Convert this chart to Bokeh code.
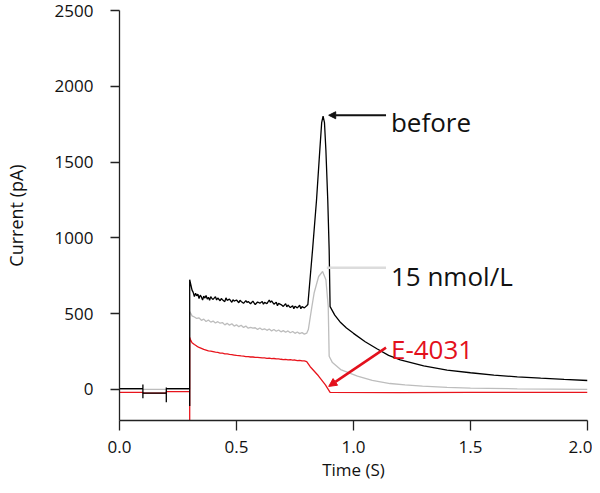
from bokeh.plotting import figure
from bokeh.models import Range1d, FixedTicker, Arrow, NormalHead, Label
from bokeh.embed import file_html
from bokeh.resources import INLINE

# ---------------- data ----------------
x_ticks = [0.0, 0.5, 1.0, 1.5, 2.0]
y_ticks = [0, 500, 1000, 1500, 2000, 2500]

before_t = [0.0, 0.1, 0.1, 0.1, 0.1, 0.2, 0.2, 0.2, 0.2, 0.3, 0.3, 0.3,
            0.305, 0.31, 0.315, 0.32, 0.325, 0.33, 0.335, 0.34, 0.345, 0.35,
            0.355, 0.36, 0.365, 0.37, 0.375, 0.38, 0.385, 0.39, 0.395, 0.40,
            0.41, 0.415, 0.42, 0.43, 0.435, 0.44, 0.45, 0.455, 0.46, 0.47, 0.48, 0.485, 0.49, 0.50,
            0.51, 0.515, 0.52, 0.53, 0.54, 0.545, 0.55, 0.56, 0.57, 0.575, 0.58, 0.59, 0.60,
            0.61, 0.615, 0.62, 0.63, 0.64, 0.645, 0.65, 0.66, 0.67, 0.675, 0.68, 0.69, 0.70,
            0.71, 0.715, 0.72, 0.73, 0.74, 0.745, 0.75, 0.76, 0.77, 0.775, 0.78, 0.79, 0.80, 0.805,
            0.825, 0.842, 0.856, 0.864, 0.870, 0.876, 0.882, 0.890, 0.896, 0.900,
            0.92, 0.945, 0.97, 1.0, 1.05, 1.10, 1.15, 1.2, 1.3, 1.4, 1.5,
            1.6, 1.7, 1.8, 1.9, 2.0]
before_i = [5, 5, 33, -59, -25, -25, -85, 13, 5, 5, -110, 724,
            690, 655, 640, 612, 635, 618, 628, 600, 622, 610,
            590, 615, 603, 620, 596, 608, 588, 612, 600, 594,
            612, 590, 603, 585, 600, 592, 579, 604, 588, 596, 575, 592, 583, 590,
            572, 588, 580, 568, 586, 574, 580, 565, 583, 571, 560, 577, 569,
            580, 562, 574, 566, 590, 574, 584, 562, 575, 552, 568, 560, 548,
            566, 545, 557, 540, 552, 533, 549, 538, 555, 532, 546, 538, 552, 560,
            921, 1250, 1579, 1760, 1803, 1760, 1579, 1250, 921, 546,
            490, 441, 405, 370, 315, 268, 225, 195, 155, 128, 110,
            95, 83, 74, 66, 59]

nmol15_t = [0.0, 0.3, 0.3, 0.305, 0.31, 0.32, 0.33, 0.34, 0.35, 0.36, 0.37, 0.38, 0.39, 0.40,
            0.41, 0.42, 0.43, 0.44, 0.45, 0.46, 0.47, 0.48, 0.49, 0.50,
            0.51, 0.52, 0.53, 0.54, 0.55, 0.56, 0.57, 0.58, 0.59, 0.60,
            0.61, 0.62, 0.63, 0.64, 0.65, 0.66, 0.67, 0.68, 0.69, 0.70,
            0.71, 0.72, 0.73, 0.74, 0.75, 0.76, 0.77, 0.78, 0.79, 0.80,
            0.807, 0.82, 0.832, 0.851, 0.868, 0.882, 0.892, 0.896, 0.91, 0.945,
            1.017, 1.08, 1.156, 1.22, 1.295, 1.4, 1.5, 1.578, 1.7, 1.85, 2.0]
nmol15_i = [0, 0, 513, 500, 485, 478, 468, 472, 456, 464, 448, 458, 444, 451,
            438, 447, 437, 441, 426, 436, 424, 433, 418, 426,
            414, 423, 409, 418, 404, 410, 404, 407, 396, 405,
            394, 400, 390, 399, 386, 395, 384, 392, 380, 388,
            377, 386, 374, 382, 370, 379, 368, 375, 365, 371,
            395, 525, 638, 745, 778, 724, 548, 219, 177, 131,
            88, 60, 39, 30, 22, 14, 9, 7, 4, 2, 0]

e4031_t = [0.0, 0.1, 0.1, 0.2, 0.2, 0.3, 0.3, 0.3,
           0.305, 0.31, 0.32, 0.33, 0.34, 0.35, 0.36, 0.37, 0.38, 0.39, 0.40,
           0.41, 0.42, 0.43, 0.44, 0.45, 0.46, 0.47, 0.48, 0.49, 0.50,
           0.51, 0.52, 0.53, 0.54, 0.55, 0.56, 0.57, 0.58, 0.59, 0.60,
           0.61, 0.62, 0.63, 0.64, 0.65, 0.66, 0.67, 0.68, 0.69, 0.70,
           0.71, 0.72, 0.73, 0.74, 0.75, 0.76, 0.77, 0.78, 0.79, 0.80,
           0.815, 0.85, 0.88, 0.90, 1.2, 1.5, 1.8, 2.0]
e4031_i = [-20, -20, -25, -25, -15, -15, -205, 342,
           322, 308, 296, 286, 277, 271, 264, 260, 255, 253, 250,
           246, 244, 240, 239, 235, 234, 231, 230, 227, 224,
           223, 221, 220, 217, 217, 214, 214, 211, 212, 210,
           208, 208, 205, 206, 203, 204, 201, 202, 199, 197,
           198, 195, 196, 193, 194, 190, 192, 188, 189, 184,
           150, 90, 30, -20, -21, -19, -20, -20]

labels = ["before", "15 nmol/L", "E-4031"]
label_colors = ["#111111", "#111111", "#e3101c"]
label_y = [1763, 750, 270]

# ---------------- figure ----------------
FONT = "Open Sans"

p = figure(width=592, height=485,
           x_range=Range1d(0, 2), y_range=Range1d(-205, 2500),
           output_backend="svg", toolbar_location=None,
           min_border_left=117, min_border_right=5,
           min_border_top=10, min_border_bottom=65)
p.outline_line_color = None
p.xgrid.grid_line_color = None
p.ygrid.grid_line_color = None
p.background_fill_color = "white"
p.border_fill_color = "white"

p.line(nmol15_t, nmol15_i, line_color="#bdbdbd", line_width=1.3)
p.line(e4031_t, e4031_i, line_color="#e8141c", line_width=1.3)
p.line(before_t, before_i, line_color="#000000", line_width=1.3)

# annotations
p.add_layout(Arrow(end=NormalHead(size=7, fill_color="#111111", line_color="#111111"),
                   x_start=1.139, y_start=1809, x_end=0.894, y_end=1809,
                   line_color="#111111", line_width=2))
p.add_layout(Arrow(end=None, x_start=1.139, y_start=803, x_end=0.886, y_end=803,
                   line_color="#dcdcdc", line_width=2.5))
p.add_layout(Arrow(end=NormalHead(size=8, fill_color="#e3101c", line_color="#e3101c"),
                   x_start=1.139, y_start=276, x_end=0.894, y_end=20,
                   line_color="#e3101c", line_width=2.5))

for txt, col, yv in zip(labels, label_colors, label_y):
    p.add_layout(Label(x=1.16, y=yv, text=txt, text_color=col,
                       text_font=FONT, text_font_size="26px",
                       text_baseline="alphabetic", text_align="left"))

# axes
p.xaxis.ticker = FixedTicker(ticks=x_ticks)
p.yaxis.ticker = FixedTicker(ticks=y_ticks)
p.xaxis.major_label_overrides = {t: f"{t:.1f}" for t in x_ticks}
for ax in (p.xaxis[0], p.yaxis[0]):
    ax.axis_line_color = "#222222"
    ax.axis_line_width = 1.3
    ax.major_tick_line_color = "#222222"
    ax.major_tick_line_width = 1.3
    ax.minor_tick_line_color = None
    ax.major_tick_in = 0
    ax.major_label_text_font = FONT
    ax.major_label_text_font_size = "17px"
    ax.major_label_text_color = "#111111"
    ax.axis_label_text_font = FONT
    ax.axis_label_text_font_style = "normal"
    ax.axis_label_text_font_size = "18px"
    ax.axis_label_text_color = "#111111"

p.xaxis.major_tick_out = 10
p.xaxis.major_label_standoff = 10
p.xaxis.axis_label = "Time (S)"
p.xaxis.axis_label_standoff = 2
p.xaxis.axis_label_text_font_size = "17px"

p.yaxis.major_tick_out = 9
p.yaxis.major_label_standoff = 17
p.yaxis.axis_label = "Current (pA)"
p.yaxis.axis_label_standoff = 24

open("out.html", "w").write(file_html(p, INLINE))
